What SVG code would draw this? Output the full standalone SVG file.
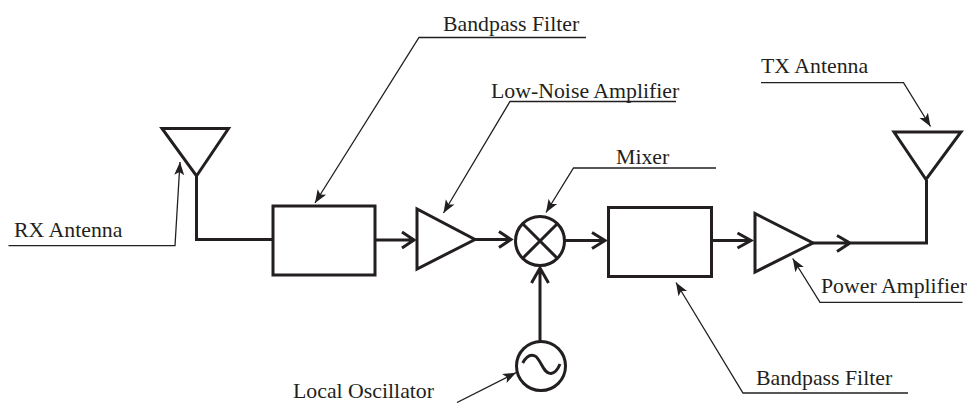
<svg xmlns="http://www.w3.org/2000/svg" width="967" height="403" viewBox="0 0 967 403">
<style>
.s{fill:none;stroke:#231f20;stroke-width:3;stroke-linejoin:miter}
.c{fill:none;stroke:#231f20;stroke-width:3}
.l{fill:none;stroke:#231f20;stroke-width:1.3}
.t{font-family:"Liberation Serif","Times New Roman",serif;font-size:21.800px;fill:#231f20}
</style>
<defs>
<marker id="a" markerUnits="userSpaceOnUse" markerWidth="14" markerHeight="12" refX="13" refY="6" orient="auto"><path d="M0 1 L13 6 L0 11 L3 6Z" fill="#231f20"/></marker>
</defs>
<rect width="967" height="403" fill="#fff"/>
<g id="connectors">
<path class="c" d="M196.500 176V239.500H273"/>
<path class="c" d="M375 240H414M402 232L414 240L402 248"/>
<path class="c" d="M475 239.500H511M499 231.500L511 239.500L499 247.500"/>
<path class="c" d="M565 240.500H605M592 232.500L605 240.500L592 248.500"/>
<path class="c" d="M540 341V268M531.500 283L540 268L548.500 283"/>
<path class="c" d="M711.500 240.500H751M737.500 233L751 240.500L737.500 248"/>
<path class="c" d="M813 243H926.500V180M850 243L837 235.500M850 243L837 251.500"/>
<path class="l" d="M8.500 245.700H175L180 162" marker-end="url(#a)"/>
<path class="l" d="M586 37.500H419L315 203" marker-end="url(#a)"/>
<path class="l" d="M676 101.500H510L443.500 213" marker-end="url(#a)"/>
<path class="l" d="M716 168H573.500L546 212.500" marker-end="url(#a)"/>
<path class="l" d="M457 402.500L516 372.700" marker-end="url(#a)"/>
<path class="l" d="M761 82.700H903.500L930.500 126.500" marker-end="url(#a)"/>
<path class="l" d="M962.500 302.300H820L792.700 258.500" marker-end="url(#a)"/>
<path class="l" d="M908 393H743L676 282.500" marker-end="url(#a)"/>
</g>
<g id="rx-antenna"><path class="s" d="M162 128.500H228.500L196.500 176Z"/><text class="t" x="14" y="237">RX Antenna</text></g>
<g id="bandpass-1"><rect class="s" x="273" y="206" width="102" height="69"/><text class="t" x="443" y="30.500">Bandpass Filter</text></g>
<g id="lna"><path class="s" d="M417 209V269L475 239.500Z"/><text class="t" x="491" y="98">Low-Noise Amplifier</text></g>
<g id="mixer"><circle class="s" cx="540" cy="241" r="24.500"/><path class="s" d="M522.700 223.700L557.300 258.300M557.300 223.700L522.700 258.300"/><text class="t" x="616" y="164">Mixer</text></g>
<g id="oscillator"><circle class="s" cx="541" cy="366" r="24.500"/><path class="s" d="M522.700 363C527 355 531 354 535 356C541 359 543 374 551 373.500C555 373 558 369 560 364"/><text class="t" x="293" y="398">Local Oscillator</text></g>
<g id="bandpass-2"><rect class="s" x="608.500" y="207.500" width="103" height="69"/><text class="t" x="756" y="385">Bandpass Filter</text></g>
<g id="pa"><path class="s" d="M755 213.500V272L813 243Z"/><text class="t" x="821" y="293">Power Amplifier</text></g>
<g id="tx-antenna"><path class="s" d="M894 132H961L926 179.500Z"/><text class="t" x="761" y="73">TX Antenna</text></g>
</svg>
